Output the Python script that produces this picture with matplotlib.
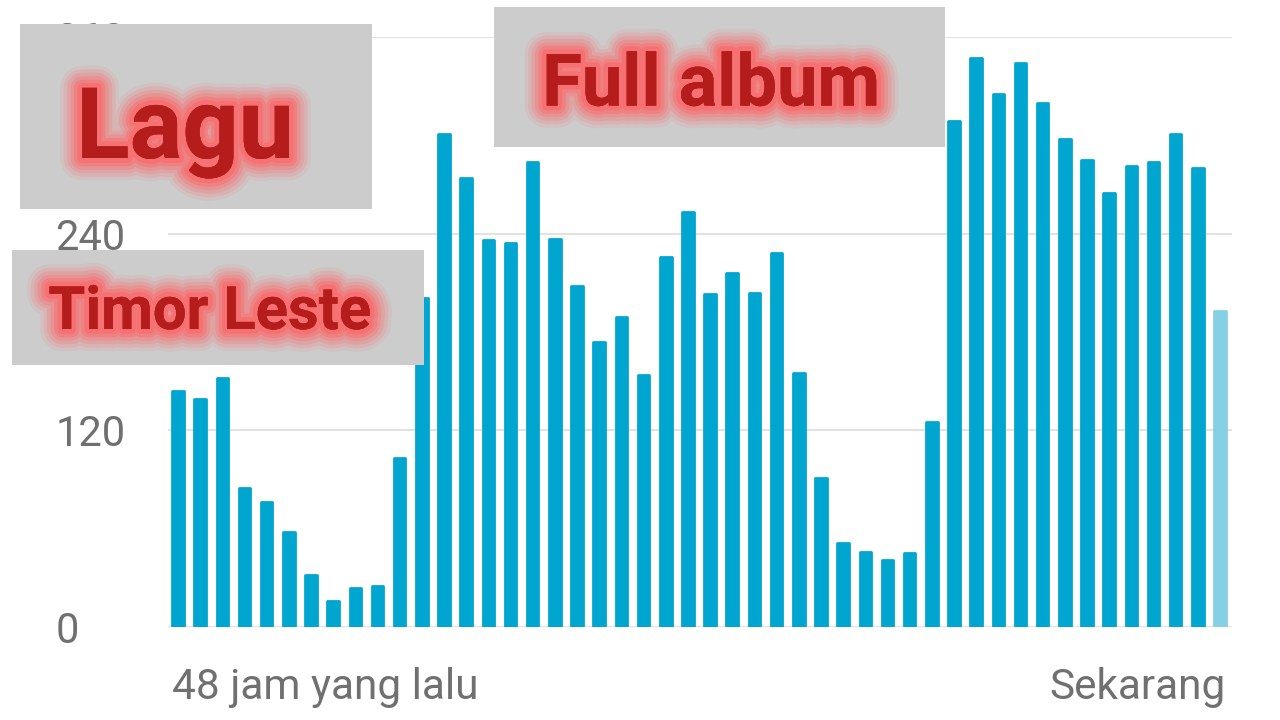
import matplotlib
matplotlib.use("Agg")
import matplotlib.pyplot as plt
import matplotlib.patheffects as pe
from matplotlib.patches import Rectangle
import numpy as np

# ---- data ----
values = [144, 139, 152, 85, 76, 58, 32, 16, 24, 25,
          103, 201, 301, 274, 236, 234, 284, 237, 208, 174,
          189, 154, 226, 253, 203, 216, 204, 228, 155, 91,
          51, 46, 41, 45, 125, 309, 347, 325, 344, 320,
          298, 285, 265, 281, 284, 301, 280, 193]
y_ticks = [0, 120, 240, 360]
x_labels = ["48 jam yang lalu", "Sekarang"]
overlay_texts = ["Lagu", "Full album", "Timor Leste"]

plt.rcParams['font.family'] = ['Roboto', 'DejaVu Sans']

W, H = 1280, 720
fig = plt.figure(figsize=(12.8, 7.2), dpi=100)
fig.patch.set_facecolor('white')

# main axes (pixel geometry)
left_px, right_px, top_px, bottom_px = 168, 1232, 37, 627
ax = fig.add_axes([left_px / W, 1 - bottom_px / H,
                   (right_px - left_px) / W, (bottom_px - top_px) / H])
n = len(values)
x = np.arange(n)
colors = ['#00a6cf'] * (n - 1) + ['#86d0e4']
bars = ax.bar(x, values, width=0.52, color=colors, edgecolor=colors,
              linewidth=2.0, zorder=3)
for b in bars:
    b.set_joinstyle('round')
ax.set_xlim(-0.45, n - 1 + 0.54)
ax.set_ylim(0, 360)
ax.set_yticks(y_ticks)
ax.set_yticklabels([str(v) for v in y_ticks])
for lbl in ax.get_yticklabels():
    lbl.set_horizontalalignment('left')
ax.tick_params(axis='y', length=0, pad=81, labelsize=30, labelcolor='#707070')
ax.set_xticks([])
for s in ax.spines.values():
    s.set_visible(False)
ax.grid(axis='y', color='#e2e2e2', linewidth=1.5, zorder=0)
ax.set_axisbelow(True)

# overlay axes in pixel coordinates
ov = fig.add_axes([0, 0, 1, 1], facecolor='none')
ov.set_xlim(0, W)
ov.set_ylim(H, 0)
ov.axis('off')

ov.text(172, 688, x_labels[0], fontsize=30.5, color='#707070', ha='left', va='center')
ov.text(1226, 688, x_labels[1], fontsize=30.5, color='#707070', ha='right', va='center')

boxes = [(20, 24, 352, 185), (494, 7, 451, 140), (12, 250, 412, 115)]
for (bx, by, bw, bh) in boxes:
    ov.add_patch(Rectangle((bx, by), bw, bh, facecolor='#cccccc', edgecolor='none', zorder=5))

glow = [pe.withStroke(linewidth=lw, foreground='#ff6262', alpha=a)
        for lw, a in ((32, 0.10), (27, 0.14), (22, 0.18), (17, 0.25),
                      (12, 0.35), (7, 0.5))] + [pe.Normal()]
specs = [(overlay_texts[0], 185, 131, 71),
         (overlay_texts[1], 711, 86, 52),
         (overlay_texts[2], 210, 313, 43)]
for txt, tx, ty, fs in specs:
    ov.text(tx, ty, txt, fontsize=fs, fontweight='bold', color='#b51c1c',
            ha='center', va='center', zorder=6, path_effects=glow)

fig.savefig('out.png', dpi=100, facecolor='white')
